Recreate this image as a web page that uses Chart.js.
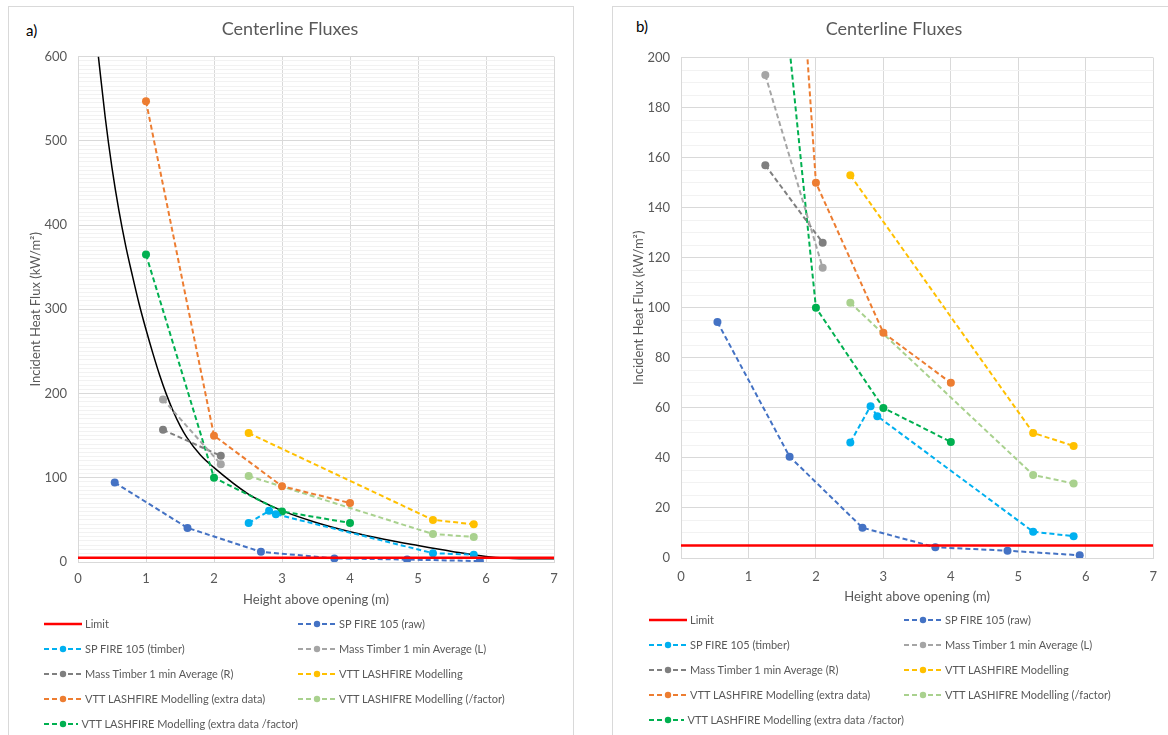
<!DOCTYPE html>
<html>
<head>
<meta charset="utf-8">
<script src="https://cdn.jsdelivr.net/npm/chart.js@4.4.1/dist/chart.umd.min.js"></script>
<style>
  body { margin: 0; background: #fff; font-family: Lato, "Open Sans", sans-serif; }
  .frame { position: absolute; border: 1px solid #d9d9d9; background: #fff; }
  .tag { position: absolute; font-size: 15px; color: #000; }
  canvas { position: absolute; }
  .legend { position: absolute; display: grid; row-gap: 0; font-size: 11px; color: #595959; }
  .legend .item { display: flex; align-items: center; height: 25px; white-space: nowrap; }
  .legend svg { margin-right: 3px; }
</style>
</head>
<body>
<div class="frame" style="left:8px; top:6px; width:564px; height:740px;"></div>
<div class="frame" style="left:612px; top:6px; width:600px; height:740px;"></div>
<div class="tag" style="left:26px; top:21px;">a)</div>
<div class="tag" style="left:636px; top:17px;">b)</div>
<canvas id="chartA" width="563" height="610" style="left:9px; top:7px;"></canvas>
<canvas id="chartB" width="555" height="610" style="left:613px; top:7px;"></canvas>
<div class="legend" id="legendA" style="left:44px; top:611px; grid-template-columns: 254px auto;"></div>
<div class="legend" id="legendB" style="left:649px; top:607px; grid-template-columns: 255px auto;"></div>

<script>
"use strict";

// Mätdata (höjd över öppning i m, infallande värmeflöde i kW/m2)
const seriesNames = [
    'Limit',
    'SP FIRE 105 (raw)',
    'SP FIRE 105 (timber)',
    'Mass Timber 1 min Average (L)',
    'Mass Timber 1 min Average (R)',
    'VTT LASHFIRE Modelling',
    'VTT LASHFIRE Modelling (extra data)',
    'VTT LASHIFRE Modelling (/factor)',
    'VTT LASHFIRE Modelling (extra data /factor)'
];

const limitX = [0, 7];
const limitY = [5, 5];

const rawX = [0.54, 1.61, 2.69, 3.77, 4.84, 5.91];
const rawY = [94.3, 40.5, 12.1, 4.3, 2.9, 1.1];

const timberX = [2.51, 2.81, 2.91, 5.22, 5.82];
const timberY = [46.2, 60.7, 56.7, 10.5, 8.7];

const massLX = [1.25, 2.10];
const massLY = [193, 116];

const massRX = [1.25, 2.10];
const massRY = [157, 126];

const vttX = [2.51, 5.22, 5.82];
const vttY = [153, 50, 44.8];

const vttExtraX = [1, 2, 3, 4];
const vttExtraY = [547, 150, 90, 70];

const vttFactorX = [2.51, 5.22, 5.82];
const vttFactorY = [102, 33.2, 29.8];

const vttExtraFactorX = [1, 2, 3, 4];
const vttExtraFactorY = [365, 100, 60, 46.4];

// Svart trendkurva (endast i diagram a)
const fitX = [0.3, 0.4, 0.5, 0.6, 0.7, 0.8, 0.9, 1.0, 1.1, 1.2, 1.3, 1.4, 1.5, 1.6, 1.8, 2.0, 2.5, 3.0, 3.5, 4.0, 4.5, 5.0, 5.5, 6.0, 6.5, 7.0];
const fitY = [600, 528, 468, 418, 376, 340, 306, 276, 248, 222, 199, 179, 162, 148, 127, 112, 81, 61, 47, 36, 27, 19.5, 12.5, 6.5, 4, 4];

const xTicks = [0, 7, 1];        // min, max, steg
const yTicksA = [0, 600, 100];   // min, max, huvudsteg
const yTicksB = [0, 200, 20];
const yMinorStep = 5;

const seriesX = [limitX, rawX, timberX, massLX, massRX, vttX, vttExtraX, vttFactorX, vttExtraFactorX];
const seriesY = [limitY, rawY, timberY, massLY, massRY, vttY, vttExtraY, vttFactorY, vttExtraFactorY];
const seriesColors = ['#FF0000', '#4472C4', '#00B0F0', '#A5A5A5', '#7F7F7F', '#FFC000', '#ED7D31', '#A9D18E', '#00B050'];

Chart.defaults.font.family = 'Lato, "Open Sans", sans-serif';
Chart.defaults.color = '#595959';

function zip(xs, ys) {
    return xs.map((x, i) => ({ x: x, y: ys[i] }));
}

function buildDatasets(withFit) {
    const sets = seriesNames.map((name, i) => {
        const isLimit = i === 0;
        return {
            label: name,
            data: zip(seriesX[i], seriesY[i]),
            borderColor: seriesColors[i],
            backgroundColor: seriesColors[i],
            borderWidth: isLimit ? 2.5 : 2,
            borderDash: isLimit ? [] : [5, 3],
            pointRadius: isLimit ? 0 : 4,
            pointBorderWidth: 0,
            tension: 0
        };
    });
    if (withFit) {
        sets.push({
            label: 'fit',
            data: zip(fitX, fitY),
            borderColor: '#000000',
            borderWidth: 1.5,
            pointRadius: 0,
            cubicInterpolationMode: 'monotone'
        });
    }
    return sets;
}

function makeChart(id, yTicks, withFit, dims) {
    const el = document.getElementById(id);
    return new Chart(el, {
        type: 'line',
        data: { datasets: buildDatasets(withFit) },
        options: {
            responsive: false,
            animation: false,
            devicePixelRatio: 1,
            events: [],
            layout: { padding: { left: dims.padLeft, right: dims.padRight, top: 0, bottom: 0 } },
            plugins: {
                legend: { display: false },
                tooltip: { enabled: false },
                title: {
                    display: true,
                    text: 'Centerline Fluxes',
                    color: '#595959',
                    font: { size: 18, weight: 'normal' },
                    padding: { top: 11, bottom: dims.titleBottom }
                }
            },
            scales: {
                x: {
                    type: 'linear',
                    min: xTicks[0],
                    max: xTicks[1],
                    ticks: { stepSize: xTicks[2], padding: dims.xTickPad, font: { size: 13 } },
                    grid: { color: '#d9d9d9', drawTicks: false },
                    border: { color: '#d9d9d9' },
                    title: {
                        display: true,
                        text: 'Height above opening (m)',
                        font: { size: 13 },
                        padding: { top: 0, bottom: dims.xTitlePad }
                    },
                    afterFit: scale => { scale.height = dims.xHeight; }
                },
                y: {
                    type: 'linear',
                    min: yTicks[0],
                    max: yTicks[1],
                    ticks: {
                        stepSize: yMinorStep,
                        autoSkip: false,
                        padding: dims.yTickPad,
                        font: { size: 13 },
                        callback: v => (v % yTicks[2] === 0 ? v : '')
                    },
                    grid: {
                        drawTicks: false,
                        color: ctx => (ctx.tick && ctx.tick.value % yTicks[2] === 0 ? '#d9d9d9' : '#f2f2f2')
                    },
                    border: { color: '#d9d9d9' },
                    title: {
                        display: true,
                        text: 'Incident Heat Flux (kW/m²)',
                        font: { size: 13 },
                        padding: { top: dims.yTitlePad, bottom: 0 }
                    },
                    afterFit: scale => { scale.width = dims.yWidth; }
                }
            }
        }
    });
}

// Egen legend i två kolumner
function buildLegend(id) {
    const box = document.getElementById(id);
    seriesNames.forEach((name, i) => {
        const item = document.createElement('div');
        item.className = 'item';
        const c = seriesColors[i];
        const line = i === 0
            ? `<line x1="0" y1="5" x2="38" y2="5" stroke="${c}" stroke-width="2.5"/>`
            : `<line x1="0" y1="5" x2="38" y2="5" stroke="${c}" stroke-width="2" stroke-dasharray="5 3"/>` +
              `<circle cx="19" cy="5" r="3.2" fill="${c}"/>`;
        item.innerHTML = `<svg width="38" height="10">${line}</svg><span>${name}</span>`;
        box.appendChild(item);
    });
}

makeChart('chartA', yTicksA, true, {
    padLeft: 17, padRight: 18, titleBottom: 17, xHeight: 55, xTickPad: 9, xTitlePad: 9,
    yWidth: 52, yTickPad: 11, yTitlePad: 2
});
makeChart('chartB', yTicksB, false, {
    padLeft: 18, padRight: 11, titleBottom: 18, xHeight: 59, xTickPad: 11, xTitlePad: 12,
    yWidth: 50, yTickPad: 11, yTitlePad: 0
});
buildLegend('legendA');
buildLegend('legendB');
</script>
</body>
</html>
